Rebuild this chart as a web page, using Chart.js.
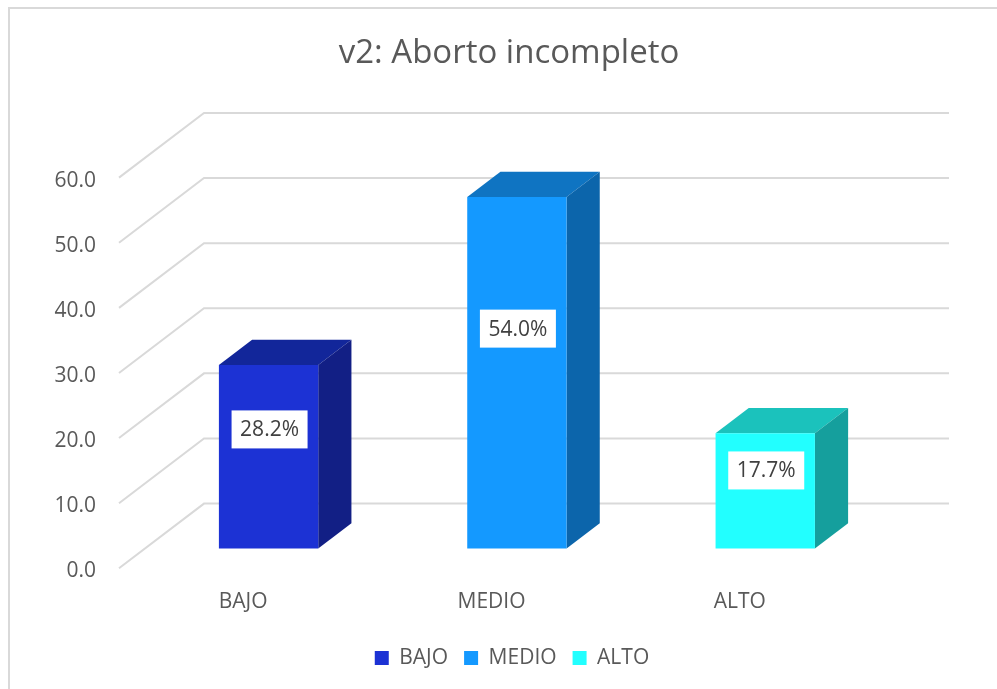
<!DOCTYPE html>
<html>
<head>
<meta charset="utf-8">
<title>v2: Aborto incompleto</title>
<script src="https://cdn.jsdelivr.net/npm/chart.js@4"></script>
<style>
    html, body { margin: 0; padding: 0; background: #fff; overflow: hidden; }
    #frame { position: absolute; left: 8px; top: 7px; width: 989px; height: 682px; border-left: 2px solid #d9d9d9; border-top: 2px solid #d9d9d9; box-sizing: border-box; }
    #chart { position: absolute; left: 0; top: 0; }
</style>
</head>
<body>
<div id="frame"></div>
<canvas id="chart" width="997" height="689"></canvas>
<script>
const categories = ['BAJO', 'MEDIO', 'ALTO']
const values = [28.2, 54.0, 17.7]
const axis_ticks = [0, 10, 20, 30, 40, 50, 60]
const title_text = 'v2: Aborto incompleto'

const face_colors = ['#1c32d4', '#1499ff', '#22ffff']
const top_colors = ['#12269a', '#0f74c2', '#1bc2bc']
const side_colors = ['#121f85', '#0c65ab', '#159f9d']

const FONT = '"Open Sans", sans-serif'
const TEXT_COLOR = '#595959'
const GRID_COLOR = '#d9d9d9'

// fake 3d: wall behind the axis, bar plane inside it, and the bar's own depth
const WALL = { x: 85, y: -64.7 }
const BAR_PLANE = { x: 25.4, y: -19.7 }
const BAR_DEPTH = { x: 33.2, y: -25.3 }

function fill_poly (ctx, color, points) {
    ctx.fillStyle = color
    ctx.beginPath()
    points.forEach(([ x, y ], i) => (i ? ctx.lineTo(x, y) : ctx.moveTo(x, y)))
    ctx.closePath()
    ctx.fill()
}

const wall_grid = {
    id: 'wall_grid',
    beforeDatasetsDraw (chart) {
        const { ctx, scales: { x, y } } = chart
        ctx.save()
        ctx.strokeStyle = GRID_COLOR
        ctx.lineWidth = 2
        for (const tick of axis_ticks) {
            const py = y.getPixelForValue(tick)
            ctx.beginPath()
            ctx.moveTo(x.left, py)
            ctx.lineTo(x.left + WALL.x, py + WALL.y)
            ctx.lineTo(x.right + WALL.x, py + WALL.y)
            ctx.stroke()
        }
        ctx.restore()
    },
}

const bars_3d = {
    id: 'bars_3d',
    afterLayout (chart) {
        // title and legend are centred on the whole frame, not on the padded plot
        chart.titleBlock.left += 77
        chart.titleBlock.right += 77
        chart.legend.left += 80
        chart.legend.right += 80
    },
    beforeDatasetDraw (chart, args) {
        const { ctx } = chart
        ctx.save()
        ctx.translate(BAR_PLANE.x, BAR_PLANE.y)
        args.meta.data.forEach((bar, i) => {
            const { x, y, base, width } = bar.getProps([ 'x', 'y', 'base', 'width' ], true)
            const [ l, r ] = [ x - width / 2, x + width / 2 ]
            const [ dx, dy ] = [ BAR_DEPTH.x, BAR_DEPTH.y ]
            fill_poly(ctx, top_colors[i], [ [ l, y ], [ l + dx, y + dy ], [ r + dx, y + dy ], [ r, y ] ])
            fill_poly(ctx, side_colors[i], [ [ r, y ], [ r + dx, y + dy ], [ r + dx, base + dy ], [ r, base ] ])
        })
    },
    afterDatasetDraw (chart) {
        chart.ctx.restore()
    },
    afterDatasetsDraw (chart) {
        const { ctx } = chart
        const meta = chart.getDatasetMeta(0)
        ctx.save()
        ctx.font = `21px ${FONT}`
        ctx.textAlign = 'center'
        ctx.textBaseline = 'middle'
        meta.data.forEach((bar, i) => {
            const { x, y, base } = bar.getProps([ 'x', 'y', 'base' ], true)
            const cx = x + BAR_PLANE.x + 1
            const cy = base + (y - base) * 0.6 + BAR_PLANE.y - 9
            ctx.fillStyle = '#fff'
            ctx.fillRect(cx - 38, cy - 19, 76, 38)
            ctx.fillStyle = '#404040'
            ctx.fillText(`${values[i].toFixed(1)}%`, cx, cy + 1)
        })
        ctx.restore()
    },
}

new Chart(document.getElementById('chart'), {
    type: 'bar',
    data: {
        labels: categories,
        datasets: [
            {
                label: title_text,
                data: values,
                backgroundColor: face_colors,
                barPercentage: 0.4,
                categoryPercentage: 1,
                clip: false,
            },
        ],
    },
    options: {
        responsive: false,
        animation: false,
        layout: { padding: { left: 0, right: 133, top: 0, bottom: 10.4 } },
        scales: {
            x: {
                afterFit (scale) { scale.height = 63.3 },
                grid: { display: false },
                border: { display: false },
                ticks: { color: TEXT_COLOR, font: { family: FONT, size: 21 }, padding: 13, maxRotation: 0 },
            },
            y: {
                min: 0,
                max: 60,
                afterFit (scale) { scale.width = 119 },
                afterBuildTicks (scale) { scale.ticks = axis_ticks.map((value) => ({ value })) },
                grid: { display: false },
                border: { display: false },
                ticks: {
                    color: TEXT_COLOR,
                    font: { family: FONT, size: 21 },
                    padding: 15,
                    labelOffset: 3,
                    callback: (v) => v.toFixed(1),
                },
            },
        },
        plugins: {
            tooltip: { enabled: false },
            title: {
                display: true,
                text: title_text,
                color: TEXT_COLOR,
                font: { family: FONT, size: 33, weight: 'normal' },
                padding: { top: 34, bottom: 104 },
            },
            legend: {
                display: true,
                position: 'bottom',
                onClick: null,
                labels: {
                    color: TEXT_COLOR,
                    font: { family: FONT, size: 21 },
                    boxWidth: 14,
                    boxHeight: 14,
                    padding: 16,
                    generateLabels: () => categories.map((text, i) => ({
                        text,
                        fillStyle: face_colors[i],
                        strokeStyle: face_colors[i],
                        lineWidth: 0,
                        fontColor: TEXT_COLOR,
                        index: i,
                    })),
                },
            },
        },
    },
    plugins: [ wall_grid, bars_3d ],
})
</script>
</body>
</html>
